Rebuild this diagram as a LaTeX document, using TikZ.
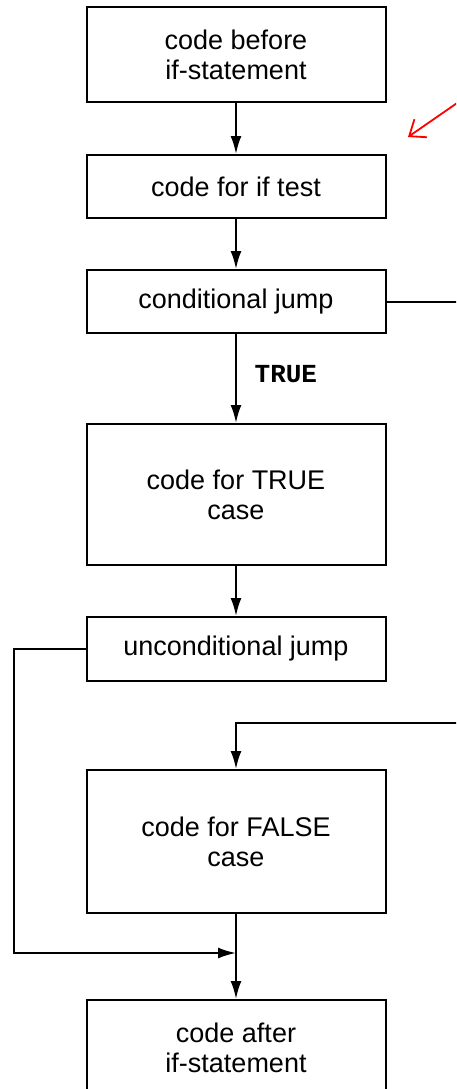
\documentclass[tikz,border=0pt]{standalone}
\usepackage{fontspec}
\setmainfont{Liberation Sans}
\setmonofont{Liberation Mono}
\usepackage{tikz}
\usetikzlibrary{calc,arrows.meta}
\tikzstyle{block} = [rectangle, minimum width=149.5pt, minimum height=31.5pt, align=center, draw=black, line width=1pt, font=\fontsize{13.5}{15}\selectfont]
\tikzstyle{arrow} = [line width=1pt,-{Latex[length=9pt,width=5.5pt]}]
\tikzstyle{line} = [line width=1pt]
\tikzstyle{note} = [red, line width=0.9pt,-{Straight Barb[length=7pt,width=11pt]}]

\begin{document}
\begin{tikzpicture}[node distance=60pt]
\clip (0,0) rectangle (228pt,-544.5pt);
\node (before) [block, minimum height=47.5pt] at (118pt,-27.25pt) {code before\\if-statement};
\node (iftest) [block, below of=before, yshift=-6pt] {code for if test};
\node (cjump) [block, below of=iftest, yshift=2.5pt] {conditional jump};
\node (truecase) [block, minimum height=70.5pt, below of=cjump, yshift=-36.5pt] {code for TRUE\\case};
\node (ujump) [block, minimum height=32pt, below of=truecase, yshift=-17.25pt] {unconditional jump};
\node (falsecase) [block, minimum height=71.5pt, below of=ujump, yshift=-36.25pt] {code for FALSE\\case};
\node (after) [block, minimum height=47.5pt, below of=falsecase, yshift=-43pt] {code after\\if-statement};

\coordinate (exitR) at (230pt,-150.75pt);
\coordinate (enterR) at (230pt,-361.5pt);
\coordinate (leftrail) at (7pt,-476.5pt);
\coordinate (notestart) at (230pt,-50.5pt);
\coordinate (notetip) at (204pt,-68.5pt);

\draw [arrow] (before) -- (iftest);
\draw [arrow] (iftest) -- (cjump);
\draw [arrow] (cjump) -- node[anchor=west, xshift=5.5pt, pos=0.45, font=\fontsize{13}{15}\ttfamily\bfseries] {TRUE} (truecase);
\draw [line] (cjump.east) -- (exitR);
\draw [arrow] (truecase) -- (ujump);
\draw [arrow] (enterR) -- (enterR -| falsecase.north) -- (falsecase.north);
\draw [arrow] (ujump.west) -| (leftrail) -- (leftrail -| after.north);
\draw [arrow] (falsecase) -- (after);
\draw [note] (notestart) -- (notetip);

\end{tikzpicture}
\end{document}
